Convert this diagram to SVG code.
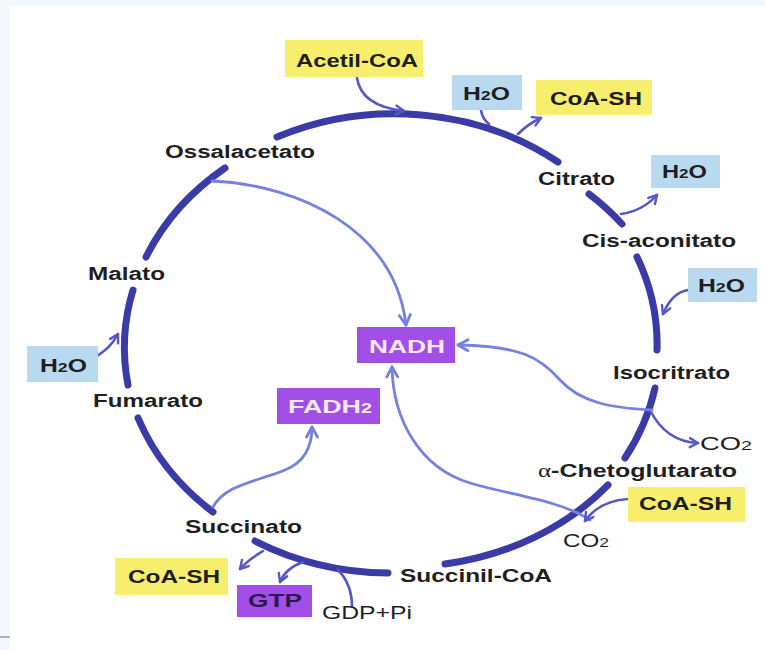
<svg xmlns="http://www.w3.org/2000/svg" width="765" height="650" viewBox="0 0 765 650">
<defs>
<style>
.arc{fill:none;stroke:#3b3ba8;stroke-width:7;stroke-linecap:round}
.cn{fill:none;stroke:#5558c4;stroke-width:2.6;stroke-linecap:round}
.cl{fill:none;stroke:#7482df;stroke-width:2.8;stroke-linecap:round}
.lb{font-family:"Liberation Sans",Arial,sans-serif;font-weight:bold;font-size:18px;fill:#1e1e1e}
.rg{font-family:"Liberation Sans",Arial,sans-serif;font-size:18px;fill:#1e1e1e}
.wt{font-family:"Liberation Sans",Arial,sans-serif;font-weight:bold;font-size:19px;fill:#f6e8f6}
.yel{fill:#f8ee6e}
.blu{fill:#b9d9f1}
.pur{fill:#a14fe6}
</style>
<marker id="a1" viewBox="0 0 12 12" refX="10" refY="6" markerWidth="12" markerHeight="12" markerUnits="userSpaceOnUse" orient="auto">
<path d="M2,1.5 L10,6 L2,10.5" fill="none" stroke="#5558c4" stroke-width="2.4" stroke-linejoin="round" stroke-linecap="round"/>
</marker>
<marker id="a2" viewBox="0 0 14 14" refX="12" refY="7" markerWidth="14" markerHeight="14" markerUnits="userSpaceOnUse" orient="auto">
<path d="M2,1.5 L12,7 L2,12.5" fill="none" stroke="#7482df" stroke-width="2.8" stroke-linejoin="round" stroke-linecap="round"/>
</marker>
</defs>
<rect x="0" y="0" width="765" height="650" fill="#f3f8fc"/>
<rect x="10" y="6" width="755" height="644" fill="#ffffff"/>
<line x1="0" y1="637" x2="10" y2="637" stroke="#9a9a9a" stroke-width="1.5"/>

<g id="cycle">
<path class="arc" d="M277,137 A267,229 0 0 1 558,162"/>
<path class="arc" d="M589,194 A267,229 0 0 1 622,224"/>
<path class="arc" d="M637,257 A267,229 0 0 1 657,350"/>
<path class="arc" d="M655,388 A267,229 0 0 1 625,458"/>
<path class="arc" d="M608,485 A267,229 0 0 1 445,564"/>
<path class="arc" d="M388,573 A267,229 0 0 1 255,541"/>
<path class="arc" d="M213,512 A267,229 0 0 1 138,418"/>
<path class="arc" d="M128,385 A267,229 0 0 1 133,290"/>
<path class="arc" d="M146,257 A267,229 0 0 1 225,168"/>
</g>

<g id="connectors">
<path class="cn" d="M357,78 C360,98 378,108 404,111" marker-end="url(#a1)"/>
<path class="cn" d="M481,110 C482,117 485,121 489,124"/>
<path class="cn" d="M518,134 C526,126 532,122 541,118" marker-end="url(#a1)"/>
<path class="cn" d="M621,214 C635,212 648,205 657,195" marker-end="url(#a1)"/>
<path class="cn" d="M688,290 C675,292 668,302 663,314" marker-end="url(#a1)"/>
<path class="cn" d="M650,410 C660,430 675,442 698,443" marker-end="url(#a1)"/>
<path class="cl" d="M652,410 C610,408 580,402 560,380 C540,357 520,346 458,345" marker-end="url(#a2)"/>
<path class="cl" d="M212,181 C300,185 395,230 406,325" marker-end="url(#a2)"/>
<path class="cl" d="M590,520 C560,500 510,495 470,483 C420,468 393,420 392,367" marker-end="url(#a2)"/>
<path class="cn" d="M628,499 C610,500 595,507 585,521" marker-end="url(#a1)"/>
<path class="cl" d="M213,507 C225,485 255,482 285,470 C305,462 312,445 312,427" marker-end="url(#a2)"/>
<path class="cn" d="M263,551 C255,556 248,560 240,569" marker-end="url(#a1)"/>
<path class="cn" d="M303,562 C292,566 284,572 280,582" marker-end="url(#a1)"/>
<path class="cn" d="M352,607 C352,590 346,578 338,570"/>
<path class="cn" d="M97,356 C106,350 112,345 118,334" marker-end="url(#a1)"/>
</g>

<g id="acetil-coa"><rect class="yel" x="285" y="40" width="138" height="37"/><text class="lb" x="296" y="67" textLength="122" lengthAdjust="spacingAndGlyphs">Acetil-CoA</text></g>
<g id="h2o-1"><rect class="blu" x="452" y="75" width="70" height="35"/><text class="lb" x="463" y="100" textLength="47" lengthAdjust="spacingAndGlyphs">H<tspan font-size="13">2</tspan>O</text></g>
<g id="coash-1"><rect class="yel" x="536" y="80" width="116" height="35"/><text class="lb" x="550" y="105" textLength="92" lengthAdjust="spacingAndGlyphs">CoA-SH</text></g>
<g id="ossalacetato"><text class="lb" x="165" y="158" textLength="150" lengthAdjust="spacingAndGlyphs">Ossalacetato</text></g>
<g id="citrato"><text class="lb" x="538" y="185" textLength="77" lengthAdjust="spacingAndGlyphs">Citrato</text></g>
<g id="h2o-2"><rect class="blu" x="651" y="155" width="69" height="33"/><text class="lb" x="662" y="178" textLength="45" lengthAdjust="spacingAndGlyphs">H<tspan font-size="13">2</tspan>O</text></g>
<g id="cis-aconitato"><text class="lb" x="582" y="247" textLength="154" lengthAdjust="spacingAndGlyphs">Cis-aconitato</text></g>
<g id="h2o-3"><rect class="blu" x="688" y="268" width="69" height="34"/><text class="lb" x="698" y="292" textLength="47" lengthAdjust="spacingAndGlyphs">H<tspan font-size="13">2</tspan>O</text></g>
<g id="isocritrato"><text class="lb" x="613" y="379" textLength="117" lengthAdjust="spacingAndGlyphs">Isocritrato</text></g>
<g id="co2-1"><text class="rg" x="700" y="450" textLength="52" lengthAdjust="spacingAndGlyphs">CO<tspan font-size="13">2</tspan></text></g>
<g id="chetoglutarato"><text class="lb" x="538" y="477" textLength="199" lengthAdjust="spacingAndGlyphs"><tspan font-family="'Liberation Serif',serif" font-weight="normal">α</tspan>-Chetoglutarato</text></g>
<g id="coash-2"><rect class="yel" x="628" y="487" width="117" height="35"/><text class="lb" x="639" y="510" textLength="93" lengthAdjust="spacingAndGlyphs">CoA-SH</text></g>
<g id="co2-2"><text class="rg" x="563" y="547" textLength="46" lengthAdjust="spacingAndGlyphs">CO<tspan font-size="13">2</tspan></text></g>
<g id="succinil-coa"><text class="lb" x="400" y="582" textLength="152" lengthAdjust="spacingAndGlyphs">Succinil-CoA</text></g>
<g id="nadh"><rect class="pur" x="357" y="327" width="98" height="36"/><text class="wt" x="369" y="353" textLength="76" lengthAdjust="spacingAndGlyphs">NADH</text></g>
<g id="fadh2"><rect class="pur" x="277" y="388" width="103" height="36"/><text class="wt" x="288" y="413" textLength="84" lengthAdjust="spacingAndGlyphs">FADH<tspan font-size="14">2</tspan></text></g>
<g id="malato"><text class="lb" x="88" y="280" textLength="77" lengthAdjust="spacingAndGlyphs">Malato</text></g>
<g id="h2o-4"><rect class="blu" x="27" y="346" width="71" height="36"/><text class="lb" x="40" y="372" textLength="47" lengthAdjust="spacingAndGlyphs">H<tspan font-size="13">2</tspan>O</text></g>
<g id="fumarato"><text class="lb" x="93" y="407" textLength="110" lengthAdjust="spacingAndGlyphs">Fumarato</text></g>
<g id="succinato"><text class="lb" x="185" y="533" textLength="117" lengthAdjust="spacingAndGlyphs">Succinato</text></g>
<g id="coash-3"><rect class="yel" x="115" y="558" width="113" height="37"/><text class="lb" x="128" y="583" textLength="92" lengthAdjust="spacingAndGlyphs">CoA-SH</text></g>
<g id="gtp"><rect class="pur" x="237" y="585" width="75" height="32"/><text class="lb" x="248" y="607" textLength="54" lengthAdjust="spacingAndGlyphs" fill="#2a1850" style="fill:#2a1850">GTP</text></g>
<g id="gdp-pi"><text class="rg" x="322" y="619" textLength="90" lengthAdjust="spacingAndGlyphs">GDP+Pi</text></g>
</svg>
